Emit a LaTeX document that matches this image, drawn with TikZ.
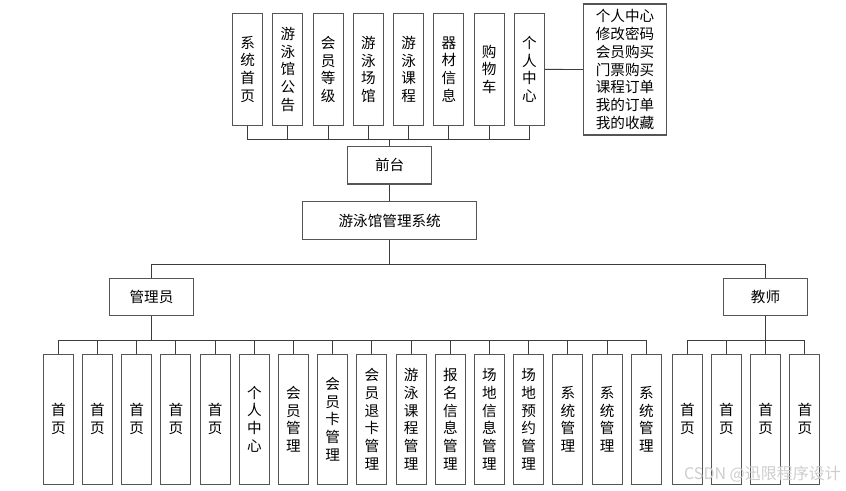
\documentclass[tikz,border=0pt]{standalone}
\usepackage{fontspec}
\setmainfont{Noto Sans CJK SC}
\definecolor{boxc}{RGB}{85,85,85}
\definecolor{linec}{RGB}{60,60,60}
\definecolor{wmc}{RGB}{205,205,205}
\begin{document}
\begin{tikzpicture}[x=1pt,y=-1pt,
  base/.style={draw=boxc,line width=1.1pt,inner sep=0pt,align=center,font=\fontsize{14.6}{17.8}\selectfont},
  vbox/.style={base,minimum width=30pt,minimum height=112.7pt},
  lbox/.style={base,minimum width=30pt,minimum height=130.3pt},
  hbox/.style={base,minimum width=84.4pt,minimum height=37.4pt},
  conn/.style={draw=linec,line width=0.9pt}]
\useasboundingbox (0,0) rectangle (846,490);
% top row
\foreach \t [count=\i from 0] in {系\\统\\首\\页,游\\泳\\馆\\公\\告,会\\员\\等\\级,游\\泳\\场\\馆,游\\泳\\课\\程,器\\材\\信\\息,购\\物\\车,个\\人\\中\\心}{
  \node[vbox] (t\i) at ({247.7+40.23*\i},69.4) {\t};
}
\node[base,minimum width=83.4pt,minimum height=131pt] (pc) at (625,69.5) {个人中心\\修改密码\\会员购买\\门票购买\\课程订单\\我的订单\\我的收藏};
\node[hbox] (qt) at (389.7,165.3) {前台};
\node[base,minimum width=174pt,minimum height=37.6pt] (sys) at (389.7,220.5) {游泳馆管理系统};
\node[hbox] (adm) at (151.5,297) {管理员};
\node[hbox] (tea) at (765.5,297) {教师};
\foreach \t [count=\i from 0] in {首\\页,首\\页,首\\页,首\\页,首\\页,个\\人\\中\\心,会\\员\\管\\理,会\\员\\卡\\管\\理,会\\员\\退\\卡\\管\\理,游\\泳\\课\\程\\管\\理,报\\名\\信\\息\\管\\理,场\\地\\信\\息\\管\\理,场\\地\\预\\约\\管\\理,系\\统\\管\\理,系\\统\\管\\理,系\\统\\管\\理}{
  \node[lbox] (a\i) at ({58.3+39.2*\i},419.2) {\t};
}
\foreach \i in {0,...,3}{
  \node[lbox] (e\i) at ({687.3+39.2*\i},419.2) {首\\页};
}
\coordinate (topbus) at (389.7,139.3);
\coordinate (midbus) at (389.7,264.7);
\coordinate (abus) at (151.5,340);
\coordinate (ebus) at (765.5,340);
\foreach \i in {0,...,7}{ \draw[conn] (t\i.south) |- (topbus); }
\draw[conn] (topbus) -- (qt.north);
\draw[conn] (t7.east) -- (pc.west);
\draw[conn] (qt.south) -- (sys.north);
\draw[conn] (sys.south) -- (midbus);
\draw[conn] (adm.north) |- (midbus);
\draw[conn] (tea.north) |- (midbus);
\foreach \i in {0,...,15}{ \draw[conn] (a\i.north) |- (abus); }
\draw[conn] (abus) -- (adm.south);
\foreach \i in {0,...,3}{ \draw[conn] (e\i.north) |- (ebus); }
\draw[conn] (ebus) -- (tea.south);
\node[text=wmc,font=\fontsize{16}{18}\selectfont,inner sep=0pt] (wm) at (762.5,474) {CSDN @迅限程序设计};
\end{tikzpicture}
\end{document}
